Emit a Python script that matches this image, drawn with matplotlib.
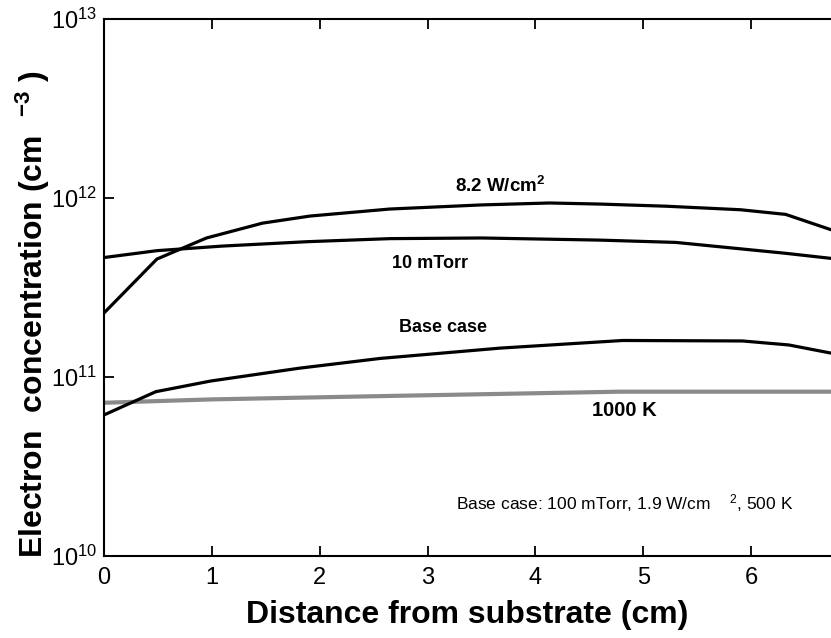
import matplotlib
matplotlib.use("Agg")
import matplotlib.pyplot as plt

plt.rcParams["font.family"] = ["Liberation Sans", "DejaVu Sans"]
plt.rcParams["mathtext.default"] = "regular"

# 8.2 W/cm2
x_power = [0.0, 0.49, 0.95, 1.47, 1.91, 2.65, 3.5, 4.13, 4.6, 5.21, 5.9, 6.32, 6.74]
n_power = [2.28e11, 4.56e11, 5.98e11, 7.24e11, 7.93e11, 8.68e11, 9.15e11, 9.38e11,
           9.25e11, 9.0e11, 8.6e11, 8.1e11, 6.65e11]

# 10 mTorr
x_press = [0.0, 0.49, 1.10, 1.88, 2.65, 3.5, 4.59, 5.30, 6.32, 6.74]
n_press = [4.65e11, 5.08e11, 5.39e11, 5.7e11, 5.93e11, 5.98e11, 5.82e11, 5.65e11,
           4.91e11, 4.6e11]

# cas de base
x_base = [0.0, 0.48, 0.99, 1.81, 2.56, 3.67, 4.81, 5.92, 6.35, 6.74]
n_base = [6.14e10, 8.28e10, 9.5e10, 1.12e11, 1.27e11, 1.45e11, 1.6e11, 1.59e11,
          1.51e11, 1.36e11]

# 1000 K
x_temp = [0.0, 1.0, 2.65, 4.78, 6.74]
n_temp = [7.18e10, 7.5e10, 7.84e10, 8.28e10, 8.28e10]

fig = plt.figure(figsize=(8.31, 6.38), dpi=100)
ax = fig.add_axes([0.1252, 0.1285, 0.8748, 0.8417])

lw = 2.3
ax.plot(x_temp, n_temp, color="#8a8a8a", lw=3.0)
ax.plot(x_power, n_power, color="black", lw=lw)
ax.plot(x_press, n_press, color="black", lw=lw)
ax.plot(x_base, n_base, color="black", lw=lw)

ax.set_yscale("log")
ax.set_xlim(0, 6.74)
ax.set_ylim(1e10, 1e13)
ax.set_xticks(range(7))
ax.set_yticks([1e10, 1e11, 1e12, 1e13])
ax.minorticks_off()
ax.tick_params(which="major", direction="in", length=7, width=1.3,
               top=True, labelsize=17)
ax.tick_params(axis="x", pad=8)
ax.tick_params(axis="y", pad=5)
for side in ["left", "bottom", "top"]:
    ax.spines[side].set_linewidth(1.5)
ax.spines["right"].set_visible(False)

ax.set_xlabel("Distance from substrate (cm)", fontsize=23, fontweight="bold", labelpad=8)
ax.set_ylabel("Electron  concentration (cm  $^{-3}$ )", fontsize=23,
              fontweight="bold")
ax.yaxis.set_label_coords(-0.072, 0.45)

ax.text(3.67, 1.17e12, "8.2 W/cm$^2$", fontsize=13.5, fontweight="bold",
        ha="center", va="center")
ax.text(3.02, 4.28e11, "10 mTorr", fontsize=13, fontweight="bold",
        ha="center", va="center")
ax.text(3.14, 1.9e11, "Base case", fontsize=13, fontweight="bold",
        ha="center", va="center")
ax.text(4.82, 6.46e10, "1000 K", fontsize=14.5, fontweight="bold",
        ha="center", va="center")
ax.text(3.26, 1.98e10, "Base case: 100 mTorr, 1.9 W/cm    $^2$, 500 K",
        fontsize=12.5, ha="left", va="center")

fig.savefig("out.png", dpi=100)
